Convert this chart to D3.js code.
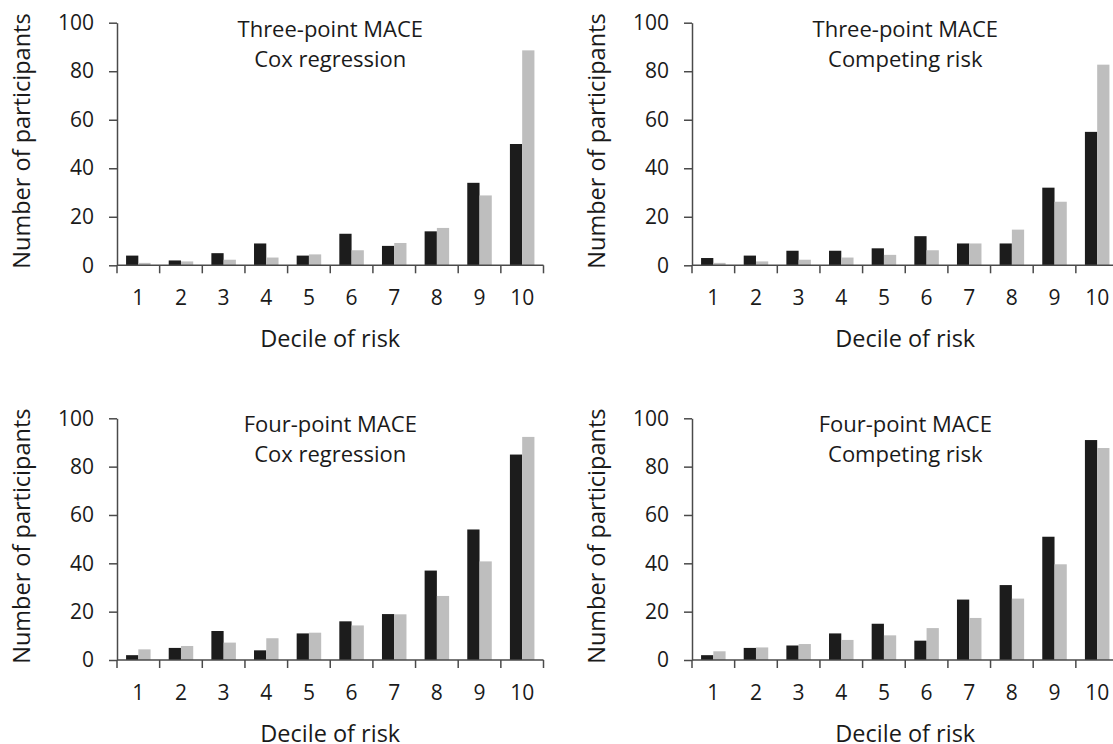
<!DOCTYPE html>
<html>
<head>
<meta charset="utf-8">
<script src="https://cdn.jsdelivr.net/npm/d3@7"></script>
<style>
  html, body { margin: 0; padding: 0; background: #fff; }
  svg { display: block; }
  text { font-family: "Open Sans", "Noto Sans", sans-serif; fill: #1a1a1a; }
</style>
</head>
<body>
<svg id="chart" width="1113" height="744"></svg>
<script>
// ---- data ----
const deciles = ["1", "2", "3", "4", "5", "6", "7", "8", "9", "10"];
const yTicks = [0, 20, 40, 60, 80, 100];
const seriesNames = ["Observed", "Predicted"];

const threeCoxObserved  = [4, 2, 5, 9, 4, 13, 8, 14, 34, 50];
const threeCoxPredicted = [1.0, 1.6, 2.3, 3.2, 4.5, 6.2, 9.2, 15.4, 28.8, 88.6];

const threeCompObserved  = [3, 4, 6, 6, 7, 12, 9, 9, 32, 55];
const threeCompPredicted = [1.0, 1.6, 2.3, 3.2, 4.3, 6.2, 9.0, 14.7, 26.2, 82.7];

const fourCoxObserved  = [2, 5, 12, 4, 11, 16, 19, 37, 54, 85];
const fourCoxPredicted = [4.4, 5.8, 7.2, 9.0, 11.3, 14.3, 18.9, 26.5, 40.8, 92.3];

const fourCompObserved  = [2, 5, 6, 11, 15, 8, 25, 31, 51, 91];
const fourCompPredicted = [3.6, 5.2, 6.6, 8.3, 10.2, 13.2, 17.4, 25.4, 39.6, 87.7];

const titleLines = [
  ["Three-point MACE", "Cox regression"],
  ["Three-point MACE", "Competing risk"],
  ["Four-point MACE", "Cox regression"],
  ["Four-point MACE", "Competing risk"]
];
const yAxisTitle = "Number of participants";
const xAxisTitle = "Decile of risk";

// ---- layout ----
const svg = d3.select("#chart");
svg.append("rect").attr("width", 1113).attr("height", 744).attr("fill", "#fff");

const panels = [
  { obs: threeCoxObserved,  pred: threeCoxPredicted,  title: titleLines[0], x0: 117, x1: 543.5, yTop: 22.7,  yBot: 265.3 },
  { obs: threeCompObserved, pred: threeCompPredicted, title: titleLines[1], x0: 692, x1: 1118.5, yTop: 22.7, yBot: 265.3 },
  { obs: fourCoxObserved,   pred: fourCoxPredicted,   title: titleLines[2], x0: 117, x1: 543.5, yTop: 418.3, yBot: 660 },
  { obs: fourCompObserved,  pred: fourCompPredicted,  title: titleLines[3], x0: 692, x1: 1118.5, yTop: 418.3, yBot: 660 }
];

const colors = { Observed: "#1c1c1c", Predicted: "#bebebe" };
const axisColor = "#4a4a4a";

panels.forEach(p => {
  const g = svg.append("g");
  const x = d3.scaleBand().domain(deciles).range([p.x0, p.x1]).padding(0);
  const xs = d3.scaleBand().domain(seriesNames).range([0, x.bandwidth()])
    .paddingInner(0).paddingOuter(0.74);
  const y = d3.scaleLinear().domain([0, 100]).range([p.yBot, p.yTop]);

  const rows = deciles.map((d, i) => ({ d, Observed: p.obs[i], Predicted: p.pred[i] }));

  // bars
  const grp = g.selectAll("g.dec").data(rows).join("g")
    .attr("transform", r => `translate(${x(r.d)},0)`);
  grp.selectAll("rect").data(r => seriesNames.map(s => ({ s, v: r[s] }))).join("rect")
    .attr("x", o => xs(o.s))
    .attr("width", xs.bandwidth())
    .attr("y", o => y(o.v))
    .attr("height", o => y(0) - y(o.v))
    .attr("fill", o => colors[o.s]);

  // y axis
  const yAxis = d3.axisLeft(y).tickValues(yTicks).tickSize(8).tickPadding(15).tickSizeOuter(0);
  const ya = g.append("g").attr("transform", `translate(${p.x0},0)`).call(yAxis);
  ya.select(".domain").attr("stroke", axisColor).attr("stroke-width", 1.5);
  ya.selectAll(".tick line").attr("stroke", axisColor).attr("stroke-width", 1.5);
  ya.selectAll(".tick text").style("font-size", "21px").attr("fill", "#1a1a1a")
    .style("font-family", "'Open Sans', sans-serif");

  // x axis: line, boundary ticks, centred labels
  const bounds = deciles.map(d => x(d)).concat([x.range()[1]]);
  g.append("line")
    .attr("x1", p.x0).attr("x2", x.range()[1])
    .attr("y1", y(0)).attr("y2", y(0))
    .attr("stroke", axisColor).attr("stroke-width", 1.5);
  g.selectAll("line.xt").data(bounds).join("line").attr("class", "xt")
    .attr("x1", b => b).attr("x2", b => b)
    .attr("y1", y(0)).attr("y2", y(0) + 8)
    .attr("stroke", axisColor).attr("stroke-width", 1.5);
  g.selectAll("text.xl").data(deciles).join("text").attr("class", "xl")
    .attr("x", d => x(d) + x.bandwidth() / 2)
    .attr("y", y(0) + 40)
    .attr("text-anchor", "middle")
    .style("font-size", "21px")
    .text(d => d);

  // x axis title
  g.append("text")
    .attr("x", (p.x0 + x.range()[1]) / 2)
    .attr("y", y(0) + 82)
    .attr("text-anchor", "middle")
    .style("font-size", "23.5px")
    .text(xAxisTitle);

  // y axis title
  const cy = (p.yTop + p.yBot) / 2 - 3;
  g.append("text")
    .attr("transform", `translate(${p.x0 - 87},${cy}) rotate(-90)`)
    .attr("text-anchor", "middle")
    .style("font-size", "23.5px")
    .text(yAxisTitle);

  // panel title
  const cx = (p.x0 + x.range()[1]) / 2;
  p.title.forEach((line, i) => {
    g.append("text")
      .attr("x", cx)
      .attr("y", y(100) + 14 + i * 30)
      .attr("text-anchor", "middle")
      .style("font-size", "22px")
      .text(line);
  });
});
</script>
</body>
</html>
